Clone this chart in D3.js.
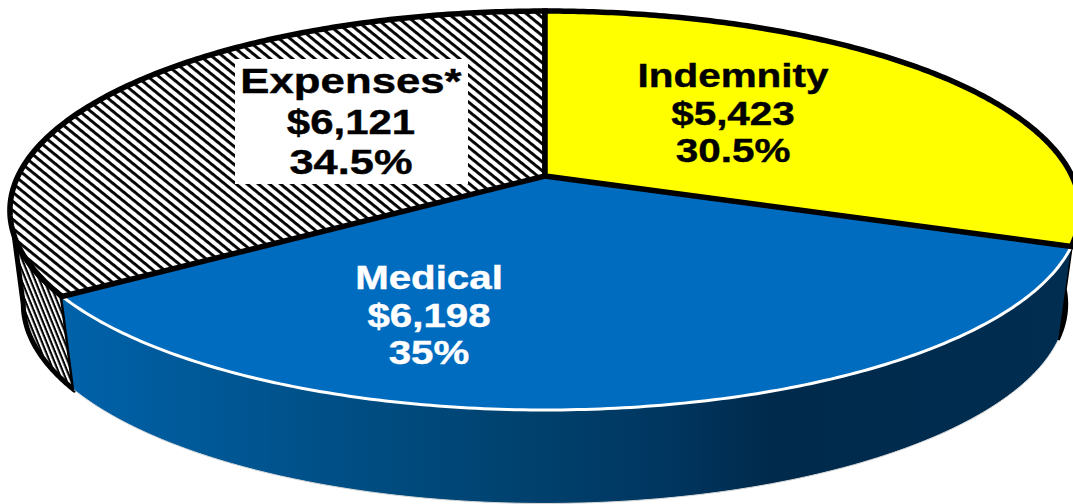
<!DOCTYPE html>
<html><head><meta charset="utf-8">
<script src="https://cdn.jsdelivr.net/npm/d3@7"></script>
<style>html,body{margin:0;padding:0;background:#fff;overflow:hidden}svg{display:block}text{font-family:"Liberation Sans",Arial,sans-serif;font-weight:700}</style>
</head><body><svg id="c" width="1073" height="504"></svg>
<script>
const categories = ["Indemnity", "Medical", "Expenses*"];
const values = [5423, 6198, 6121];
const amountLabels = ["$5,423", "$6,198", "$6,121"];
const percentLabels = ["30.5%", "35%", "34.5%"];

const W = 1073, H = 504;
const svg = d3.select("#c");
const defs = svg.append("defs");

function hatch(id, period, thick, angle) {
  const p = defs.append("pattern").attr("id", id).attr("patternUnits", "userSpaceOnUse")
    .attr("width", period).attr("height", period)
    .attr("patternTransform", `rotate(${angle})`);
  p.append("rect").attr("width", period).attr("height", period).attr("fill", "#fff");
  p.append("rect").attr("width", period).attr("height", thick).attr("fill", "#000");
}
hatch("hTop", 7, 2.9, 39);
hatch("hSide", 4.2, 2.1, 68);

const grad = defs.append("linearGradient").attr("id", "gSide").attr("gradientUnits", "userSpaceOnUse")
  .attr("x1", 62).attr("x2", 1073).attr("y1", 0).attr("y2", 0);
[[0, "#0062aa"], [0.2, "#00548f"], [0.45, "#00426f"], [0.6, "#003660"], [0.7, "#002a4c"], [1, "#002d50"]]
  .forEach(([o, c]) => grad.append("stop").attr("offset", o).attr("stop-color", c));

// perspective projection of the pie disc
const view = { cx: 545, cy: 176, rx: 527, ry: 193.5, k: 0.173 };
const depth = { fx: 0.975, fy: 1, cy: 269.5 };
function project(t, lower) {
  const u = Math.sin(t), v = -Math.cos(t), s = 1 / (1 - view.k * v);
  const fx = lower ? depth.fx : 1, fy = lower ? depth.fy : 1, cy = lower ? depth.cy : view.cy;
  return [view.cx + fx * view.rx * u * s, cy + fy * view.ry * v * s];
}
const arcs = d3.pie().sort(null).value(d => d).startAngle(0).endAngle(2 * Math.PI)(values);
const samples = (a, b, lower) => d3.range(0, 181).map(i => project(a + (b - a) * i / 180, lower));
const line = d3.line();
const [ind, med, exp] = arcs;
const center = [view.cx, view.cy];

// sides
const sidePath = (a, b, a2, b2) => line([...samples(a, b, false), ...samples(b2 ?? b, a2 ?? a, true)]) + "Z";

svg.append("path").attr("d", sidePath(ind.endAngle - 0.32, ind.endAngle, ind.endAngle - 0.42, ind.endAngle))
  .attr("fill", "#000").attr("stroke", "#000").attr("stroke-width", 3);
svg.append("path").attr("d", sidePath(exp.startAngle, exp.startAngle + 0.3, exp.startAngle, exp.startAngle + 0.42))
  .attr("fill", "url(#hSide)").attr("stroke", "#000").attr("stroke-width", 5).attr("stroke-linejoin", "round");
svg.append("path").attr("d", sidePath(med.startAngle, med.endAngle)).attr("fill", "url(#gSide)");
svg.append("path").attr("d", line(samples(med.startAngle, med.endAngle, true)))
  .attr("fill", "none").attr("stroke", "#d8d8d8").attr("stroke-width", 1);

// top slices
const slicePath = d => line([center, ...samples(d.startAngle, d.endAngle, false)]) + "Z";
svg.append("path").attr("d", slicePath(med)).attr("fill", "#006cbf");
svg.append("path").attr("d", line(samples(med.startAngle, med.endAngle, false)))
  .attr("fill", "none").attr("stroke", "#fff").attr("stroke-width", 3);
svg.append("path").attr("d", slicePath(exp)).attr("fill", "url(#hTop)")
  .attr("stroke", "#000").attr("stroke-width", 5.5).attr("stroke-linejoin", "miter");
svg.append("path").attr("d", slicePath(ind)).attr("fill", "#ffff00")
  .attr("stroke", "#000").attr("stroke-width", 5.5).attr("stroke-linejoin", "miter");

// labels
const labelLayout = [
  { x: 733, ys: [87, 125, 162], fill: "#000", size: 34, sx: [1.19, 1.19, 1.19] },
  { x: 429, ys: [289, 327, 364], fill: "#fff", size: 33, sx: [1.22, 1.22, 1.22] },
  { x: 351, ys: [93, 134, 174], fill: "#000", size: 35, sx: [1.25, 1.2, 1.24] }
];
svg.append("rect").attr("x", 235).attr("y", 59).attr("width", 233).attr("height", 125).attr("fill", "#fff");
categories.forEach((c, i) => {
  const l = labelLayout[i];
  [c, amountLabels[i], percentLabels[i]].forEach((t, j) => {
    svg.append("text").attr("transform", `translate(${l.x},${l.ys[j]}) scale(${l.sx[j]},1)`)
      .attr("text-anchor", "middle").attr("font-size", l.size).attr("fill", l.fill)
      .attr("stroke", l.fill).attr("stroke-width", 0.4).text(t);
  });
});
</script></body></html>
